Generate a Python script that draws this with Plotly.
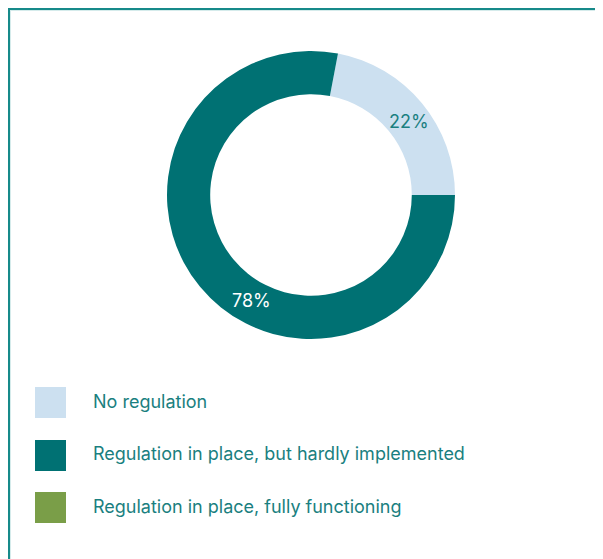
import plotly.graph_objects as go

categories = ["No regulation", "Regulation in place, but hardly implemented", "Regulation in place, fully functioning"]
values = [22, 78, 0]
colors = ["#cce0f0", "#007173", "#7a9e48"]
label_colors = ["#1a7f80", "#ffffff", "#ffffff"]

W, H = 603, 559
OFF = 8  # page body margin
fig = go.Figure()

cx, cy, R = 311 - OFF, 195 - OFF, 144
fig.add_trace(go.Pie(
    labels=categories, values=values, sort=False, direction="clockwise",
    rotation=90 - 360 * values[0] / sum(values),
    hole=0.70, marker=dict(colors=colors, line=dict(width=0)),
    textinfo="none", hoverinfo="label+percent", showlegend=False,
    domain=dict(x=[(cx - R) / W, (cx + R) / W], y=[1 - (cy + R) / H, 1 - (cy - R) / H]),
))

# percent labels
label_pos = [(409 - OFF, 121 - OFF), (251 - OFF, 300 - OFF)]
total = sum(values)
for i, (px, py) in enumerate(label_pos):
    fig.add_annotation(x=px / W, y=1 - py / H, xref="paper", yref="paper",
                       xanchor="center", yanchor="middle",
                       text=f"{round(values[i] / total * 100)}%", showarrow=False,
                       font=dict(family="Inter", size=18, color=label_colors[i]))

# legend
shapes = []
ys = [401 - OFF, 453.5 - OFF, 506 - OFF]
for i, cat in enumerate(categories):
    y0 = [387, 440, 492][i] - OFF
    shapes.append(dict(type="rect", xref="paper", yref="paper",
                       x0=(35 - OFF) / W, x1=(66 - OFF) / W, y0=1 - (y0 + 31) / H, y1=1 - y0 / H,
                       fillcolor=colors[i], line=dict(width=0)))
    fig.add_annotation(x=(91 - OFF) / W, y=1 - ys[i] / H, xref="paper", yref="paper",
                       text=cat, showarrow=False, xanchor="left", yanchor="middle",
                       font=dict(family="Inter", size=18, color="#1a7f80"))

# frame lines
shapes += [
    dict(type="line", xref="paper", yref="paper", x0=0, x1=1, y0=1 - 2.5 / H, y1=1 - 2.5 / H, line=dict(color="#d5ebeb", width=1)),
    dict(type="line", xref="paper", yref="paper", x0=2.5 / W, x1=2.5 / W, y0=0, y1=1 - 2.5 / H, line=dict(color="#d5ebeb", width=1)),
    dict(type="line", xref="paper", yref="paper", x0=0, x1=1, y0=1 - 1 / H, y1=1 - 1 / H, line=dict(color="#178a8a", width=2)),
    dict(type="line", xref="paper", yref="paper", x0=1 / W, x1=1 / W, y0=0, y1=1 - 1 / H, line=dict(color="#178a8a", width=2)),
]

fig.update_layout(width=W, height=H, margin=dict(l=0, r=0, t=0, b=0),
                  paper_bgcolor="white", plot_bgcolor="white", shapes=shapes)
fig.write_html("out.html")
